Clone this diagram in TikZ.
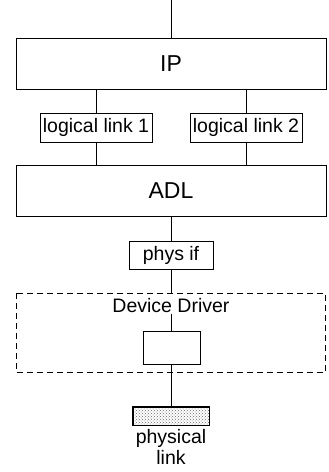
\documentclass[tikz,border=0pt]{standalone}
\usepackage{fontspec}
\setmainfont{Liberation Sans}
\usetikzlibrary{patterns}
\begin{document}
\begin{tikzpicture}[x=1pt,y=-1pt,
  line width=0.85pt,
  layer/.style={draw,minimum width=310pt,minimum height=51pt,inner sep=0pt,
    font=\fontsize{23}{26}\selectfont},
  smallbox/.style={draw,inner sep=0pt,font=\fontsize{19.5}{22}\selectfont},
  label/.style={inner sep=0pt,font=\fontsize{19.5}{22}\selectfont,align=center},
  dashbox/.style={draw,dash pattern=on 6pt off 4pt}]
\useasboundingbox (0,0) rectangle (329,472);

% protocol layers
\node[layer] (ip) at (171,63.5) {IP};
\node[layer] (adl) at (171,191) {ADL};

% logical links between IP and ADL
\node[smallbox,minimum width=112pt,minimum height=29pt] (ll1) at (96,127.5) {logical link 1};
\node[smallbox,minimum width=112pt,minimum height=29pt] (ll2) at (246,127.5) {logical link 2};

% physical interface
\node[smallbox,minimum width=84pt,minimum height=28pt] (pif) at (171,255) {phys if};

% device driver region
\draw[dashbox] (16,293) rectangle (325,372.5);
\node[label] (dd) at (171,306) {Device Driver};
\node[smallbox,minimum width=57pt,minimum height=33pt] (drv) at (171.5,347.5) {};

% physical link
\node[draw,inner sep=0pt,minimum width=76pt,minimum height=18pt,
  fill=gray!12,pattern=crosshatch dots,pattern color=gray!80!black] (phy) at (171,416) {};
\draw (phy.north west) rectangle (phy.south east);
\node[label,anchor=north] (phylbl) at (171,429) {physical\\[-1pt]link};

% connectors
\coordinate (top) at (171,0);
\draw (top) -- (ip.north);
\draw (ll1.north) -- (ll1.north |- ip.south);
\draw (ll2.north) -- (ll2.north |- ip.south);
\draw (ll1.south) -- (ll1.south |- adl.north);
\draw (ll2.south) -- (ll2.south |- adl.north);
\draw (adl.south) -- (pif.north);
\draw (pif.south) -- (171,293);
\draw (dd.south) -- (drv.north -| dd.south);
\draw (drv.south -| phy.north) -- (phy.north);
\end{tikzpicture}
\end{document}
